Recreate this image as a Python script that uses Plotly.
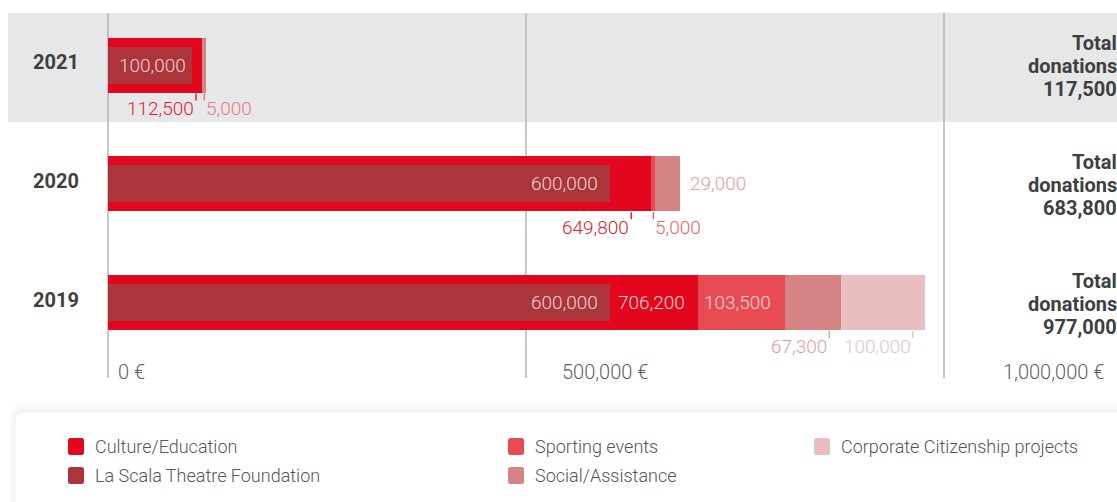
import plotly.graph_objects as go

# ---- data -------------------------------------------------------------
years = ["2021", "2020", "2019"]
culture = [112500, 649800, 706200]
la_scala = [100000, 600000, 600000]
sporting = [0, 5000, 103500]
social = [5000, 29000, 67300]
corporate = [0, 0, 100000]
totals = [117500, 683800, 977000]

axis_ticks = [0, 500000, 1000000]
axis_tick_text = ["0 €", "500,000 €", "1,000,000 €"]

series_names = ["Culture/Education", "La Scala Theatre Foundation", "Sporting events",
                "Social/Assistance", "Corporate Citizenship projects"]

# ---- styling ----------------------------------------------------------
W, H = 1117, 502
PX_PER_UNIT = 836 / 1_000_000      # horizontal scale (px per euro)
ZERO_PX = 108                       # where 0 € sits
ROW_PX = 118.75                     # distance between bar centres
TOP_ROW_PX = 65                     # centre of the first bar
BAR_PX, INNER_PX = 55, 37

COLORS = {
    "culture": "#e2071d",
    "la_scala": "#ab353b",
    "sporting": "#e84b53",
    "social": "#d68386",
    "corporate": "#e8bec0",
}
LABEL_COLORS = {
    "culture": "#e2202d",
    "sporting": "#ee5e67",
    "social": "#e29b9f",
    "corporate": "#e8c3c5",
}
INSIDE_TEXT = "#f1d3d5"
DARK_TEXT = "#3f3f3f"
AXIS_TEXT = "#5f5f5f"
GRID = "#b4b4b6"
BAND = "#e6e7e9"
FONT = "Roboto"

n = len(years)
rows = [n - 1 - i for i in range(n)]          # 2021 on top
bar_w = BAR_PX / ROW_PX
inner_w = INNER_PX / ROW_PX

x_range = [-ZERO_PX / PX_PER_UNIT, (W - ZERO_PX) / PX_PER_UNIT]
y_top = rows[0] + TOP_ROW_PX / ROW_PX
y_range = [y_top - H / ROW_PX, y_top]


def py_to_y(py):
    """pixel row -> y data value"""
    return y_top - py / ROW_PX


fig = go.Figure()

# stacked segments, each starting where the previous one ends
stack = [("culture", culture), ("sporting", sporting), ("social", social), ("corporate", corporate)]
bases = [[0] * n]
for key, vals in stack:
    base = bases[-1]
    fig.add_trace(go.Bar(
        y=rows, x=vals, base=base, orientation="h", width=bar_w,
        marker=dict(color=COLORS[key], line=dict(width=0)),
        hoverinfo="skip", showlegend=False,
    ))
    bases.append([b + v for b, v in zip(base, vals)])

# La Scala share drawn inside the Culture/Education bar
fig.add_trace(go.Bar(
    y=rows, x=la_scala, base=[0] * n, orientation="h", width=inner_w,
    marker=dict(color=COLORS["la_scala"], line=dict(width=0)),
    hoverinfo="skip", showlegend=False,
))

# ---- value labels -----------------------------------------------------
values = {"culture": culture, "la_scala": la_scala, "sporting": sporting,
          "social": social, "corporate": corporate}
seg_start = {"culture": bases[0], "sporting": bases[1], "social": bases[2],
             "corporate": bases[3], "la_scala": [0] * n}

# (year, series) -> (placement, pixel offset from the segment end)
placement = {
    ("2021", "la_scala"): ("inside", 6),
    ("2021", "culture"): ("below_right", 6),
    ("2021", "social"): ("below_left", 2),
    ("2020", "la_scala"): ("inside", 12),
    ("2020", "culture"): ("below_right", 20),
    ("2020", "sporting"): ("below_left", 2),
    ("2020", "social"): ("outside", 10),
    ("2019", "la_scala"): ("inside", 12),
    ("2019", "culture"): ("inside", 13),
    ("2019", "sporting"): ("inside", 14),
    ("2019", "social"): ("below_right", 12),
    ("2019", "corporate"): ("below_right", 12),
}
label_color_override = {("2021", "social"): "#ec7a81"}

value_font = dict(family=FONT, size=19, weight=300)
PAD = 2   # compensates the annotation box padding
shapes = []
annotations = []

for i, yr in enumerate(years):
    for key, vals in values.items():
        v = vals[i]
        if (yr, key) not in placement or v == 0:
            continue
        mode, off = placement[(yr, key)]
        end = seg_start[key][i] + v
        txt = f"{v:,}"
        col = label_color_override.get((yr, key), LABEL_COLORS.get(key, INSIDE_TEXT))
        if mode == "inside":
            annotations.append(dict(
                x=end, y=rows[i], xref="x", yref="y", text=txt, showarrow=False,
                xanchor="right", yanchor="middle", xshift=-off + PAD,
                font=dict(color=INSIDE_TEXT, **value_font)))
        elif mode == "outside":
            annotations.append(dict(
                x=end, y=rows[i], xref="x", yref="y", text=txt, showarrow=False,
                xanchor="left", yanchor="middle", xshift=off - PAD,
                font=dict(color=col, **value_font)))
        else:
            tick_dx = -off
            shapes.append(dict(
                type="line", xref="x", yref="y", xsizemode="pixel", ysizemode="pixel",
                xanchor=end, yanchor=rows[i], x0=tick_dx, x1=tick_dx,
                y0=-BAR_PX / 2 - 1, y1=-BAR_PX / 2 - 8,
                line=dict(color=col, width=1.5), layer="above"))
            annotations.append(dict(
                x=end, y=rows[i], xref="x", yref="y", text=txt, showarrow=False,
                xanchor="right" if mode == "below_right" else "left",
                yanchor="middle",
                xshift=tick_dx - 2 + PAD if mode == "below_right" else tick_dx + 2 - PAD,
                yshift=-BAR_PX / 2 - 16,
                font=dict(color=col, **value_font)))

# ---- year labels and totals ------------------------------------------
bold = dict(family=FONT, size=20, weight=700, color=DARK_TEXT)
for i, yr in enumerate(years):
    annotations.append(dict(
        x=56 / W, y=rows[i], xref="paper", yref="y", text=yr, showarrow=False,
        xanchor="center", yanchor="middle", yshift=3, font=bold))
    total_lines = ["Total", "donations", f"{totals[i]:,}"]
    for j, line in enumerate(total_lines):
        annotations.append(dict(
            x=1, y=rows[i], xref="paper", yref="y", text=line, showarrow=False,
            xanchor="right", yanchor="middle", xshift=PAD,
            yshift=(1 - j) * 23 - 1, font=bold))

# ---- background band and grid lines ----------------------------------
shapes.insert(0, dict(type="rect", xref="paper", yref="y", x0=8 / W, x1=1,
                      y0=py_to_y(122), y1=py_to_y(13),
                      fillcolor=BAND, line=dict(width=0), layer="below"))
tick_shift = [10, 36, 59]
for t, lab, dx in zip(axis_ticks, axis_tick_text, tick_shift):
    shapes.append(dict(type="line", xref="x", yref="y", x0=t, x1=t,
                       y0=py_to_y(378), y1=py_to_y(13),
                       line=dict(color=GRID, width=1.5), layer="below"))
    annotations.append(dict(
        x=t, y=py_to_y(372), xref="x", yref="y", text=lab, showarrow=False,
        xanchor="left", yanchor="middle", xshift=dx - PAD,
        font=dict(family=FONT, size=20, weight=300, color=AXIS_TEXT)))


# ---- legend panel -----------------------------------------------------
def px(x):
    return x / W


def py(y):
    return 1 - y / H


def rounded_rect(x0, y0, x1, y1, r):
    """SVG path (paper coords) for a rectangle with rounded corners, given in px."""
    return (f"M {px(x0 + r)} {py(y0)} L {px(x1 - r)} {py(y0)} "
            f"Q {px(x1)} {py(y0)} {px(x1)} {py(y0 + r)} L {px(x1)} {py(y1 - r)} "
            f"Q {px(x1)} {py(y1)} {px(x1 - r)} {py(y1)} L {px(x0 + r)} {py(y1)} "
            f"Q {px(x0)} {py(y1)} {px(x0)} {py(y1 - r)} L {px(x0)} {py(y0 + r)} "
            f"Q {px(x0)} {py(y0)} {px(x0 + r)} {py(y0)} Z")


for k in range(6, 0, -1):
    shapes.append(dict(type="path", xref="paper", yref="paper",
                       path=rounded_rect(15 - k, 412 - k * 1.6, W + 20, H + 20, 8 + k),
                       fillcolor="rgba(0,0,0,0.007)", line=dict(width=0), layer="above"))
shapes.append(dict(type="path", xref="paper", yref="paper",
                   path=rounded_rect(15, 412, W + 20, H + 20, 8),
                   fillcolor="white", line=dict(color="#f1f1f1", width=1), layer="above"))

legend_keys = ["culture", "la_scala", "sporting", "social", "corporate"]
legend_cols = [68, 68, 508, 508, 814]
legend_rows = [446, 475, 446, 475, 446]
for key, name, lx, ly in zip(legend_keys, series_names, legend_cols, legend_rows):
    shapes.append(dict(type="path", xref="paper", yref="paper",
                       path=rounded_rect(lx, ly - 8, lx + 16, ly + 9, 2.5),
                       fillcolor=COLORS[key], line=dict(width=0), layer="above"))
    annotations.append(dict(
        x=px(lx + 25), y=py(ly), xref="paper", yref="paper", text=name,
        showarrow=False, xanchor="left", yanchor="middle",
        font=dict(family=FONT, size=18, weight=300, color="#555555")))

fig.update_layout(
    width=W, height=H, margin=dict(l=0, r=0, t=0, b=0),
    paper_bgcolor="white", plot_bgcolor="rgba(0,0,0,0)",
    barmode="overlay", bargap=0,
    xaxis=dict(range=x_range, visible=False, fixedrange=True),
    yaxis=dict(range=y_range, visible=False, fixedrange=True),
    shapes=shapes, annotations=annotations,
    showlegend=False,
)

fig.write_html("out.html")
